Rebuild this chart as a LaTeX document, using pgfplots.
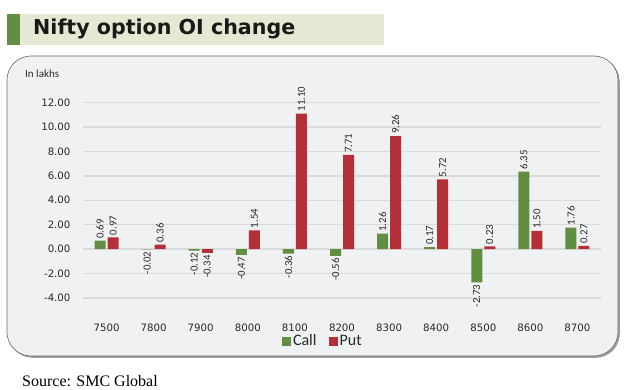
\documentclass[border=0pt]{standalone}
\usepackage{pgfplots}
\pgfplotsset{compat=1.18}
\usepackage{fontspec}
\setmainfont{Carlito}
\newfontfamily\verd{DejaVu Sans}
\newfontfamily\tnr{Liberation Serif}
\definecolor{callg}{RGB}{98,142,66}
\definecolor{putr}{RGB}{181,47,56}
\definecolor{panel}{RGB}{240,241,243}
\definecolor{banner}{RGB}{229,233,212}
\definecolor{gridc}{RGB}{217,218,220}
\definecolor{txt}{RGB}{40,40,40}
\begin{document}
\begin{tikzpicture}[x=1pt,y=1pt]
\useasboundingbox (0,0) rectangle (629,390);
\fill[white] (0,0) rectangle (629,390);
% title banner
\fill[banner] (7,345) rectangle (384,376);
\fill[callg] (7,345) rectangle (19.7,376);
\node[anchor=base west, inner sep=0, font=\verd\bfseries\fontsize{20.6}{24}\selectfont, text=black!90] at (33,355) {Nifty option OI change};
% panel
\fill[gray!75, rounded corners=24pt] (8.8,32.2) rectangle (619.8,332.2);
\filldraw[fill=panel, draw=gray!80!black, line width=0.6pt, rounded corners=24pt] (7,34) rectangle (618,334);
\node[anchor=west, inner sep=0, font=\fontsize{11}{13}\selectfont, text=txt] at (25,316.7) {In lakhs};
\node[anchor=west, inner sep=0, font=\tnr\fontsize{16}{19}\selectfont, text=black] at (22,9) {Source: SMC Global};
\begin{axis}[
  at={(83pt,67.6pt)}, anchor=south west,
  scale only axis, width=518pt, height=219.8pt,
  xmin=-0.5, xmax=10.5, ymin=-6, ymax=12,
  ytick={-4,-2,...,12},
  xtick={0,...,10},
  xticklabels={7500,7800,7900,8000,8100,8200,8300,8400,8500,8600,8700},
  axis line style={draw=none},
  major tick length=0pt,
  ymajorgrids, grid style={gridc, line width=1.3pt},
  ybar, bar width=11pt,
  clip=false,
  tick label style={font=\verd\fontsize{10.2}{12}\selectfont, text=txt},
  yticklabel style={xshift=-9pt, /pgf/number format/.cd, fixed, fixed zerofill, precision=2, assume math mode=true},
  xticklabel style={yshift=2.4pt},
  nodes near coords={\pgfmathprintnumber[fixed, fixed zerofill, precision=2, assume math mode=true]{\pgfplotspointmeta}},
  nodes near coords style={font=\fontsize{10.8}{12}\selectfont, text=txt, rotate=90, inner sep=2pt},
  sqlegend/.style={legend image code/.code={\fill[##1] (0pt,-4.5pt) rectangle (9pt,4.5pt);}},
  legend style={at={(0.463,-0.085)}, anchor=center, draw=none, fill=none, legend columns=2,
    font=\fontsize{16}{18}\selectfont, text=txt, /tikz/every even column/.append style={column sep=10pt}},
]
\addplot[fill=callg, draw=none, bar shift=-6.5pt, sqlegend, nodes near coords style={anchor=west}]
  coordinates {(0,0.69) (6,1.26) (7,0.17) (9,6.35) (10,1.76)};
\addlegendentry{Call}
\addplot[fill=callg, draw=none, bar shift=-6.5pt, forget plot, nodes near coords style={anchor=east}]
  coordinates {(1,-0.02) (2,-0.12) (3,-0.47) (4,-0.36) (5,-0.56) (8,-2.73)};
\addplot[fill=putr, draw=none, bar shift=6.5pt, sqlegend, nodes near coords style={anchor=west}]
  coordinates {(0,0.97) (1,0.36) (3,1.54) (4,11.10) (5,7.71) (6,9.26) (7,5.72) (8,0.23) (9,1.50) (10,0.27)};
\addlegendentry{Put}
\addplot[fill=putr, draw=none, bar shift=6.5pt, forget plot, nodes near coords style={anchor=east}]
  coordinates {(2,-0.34)};
\end{axis}
\end{tikzpicture}
\end{document}
